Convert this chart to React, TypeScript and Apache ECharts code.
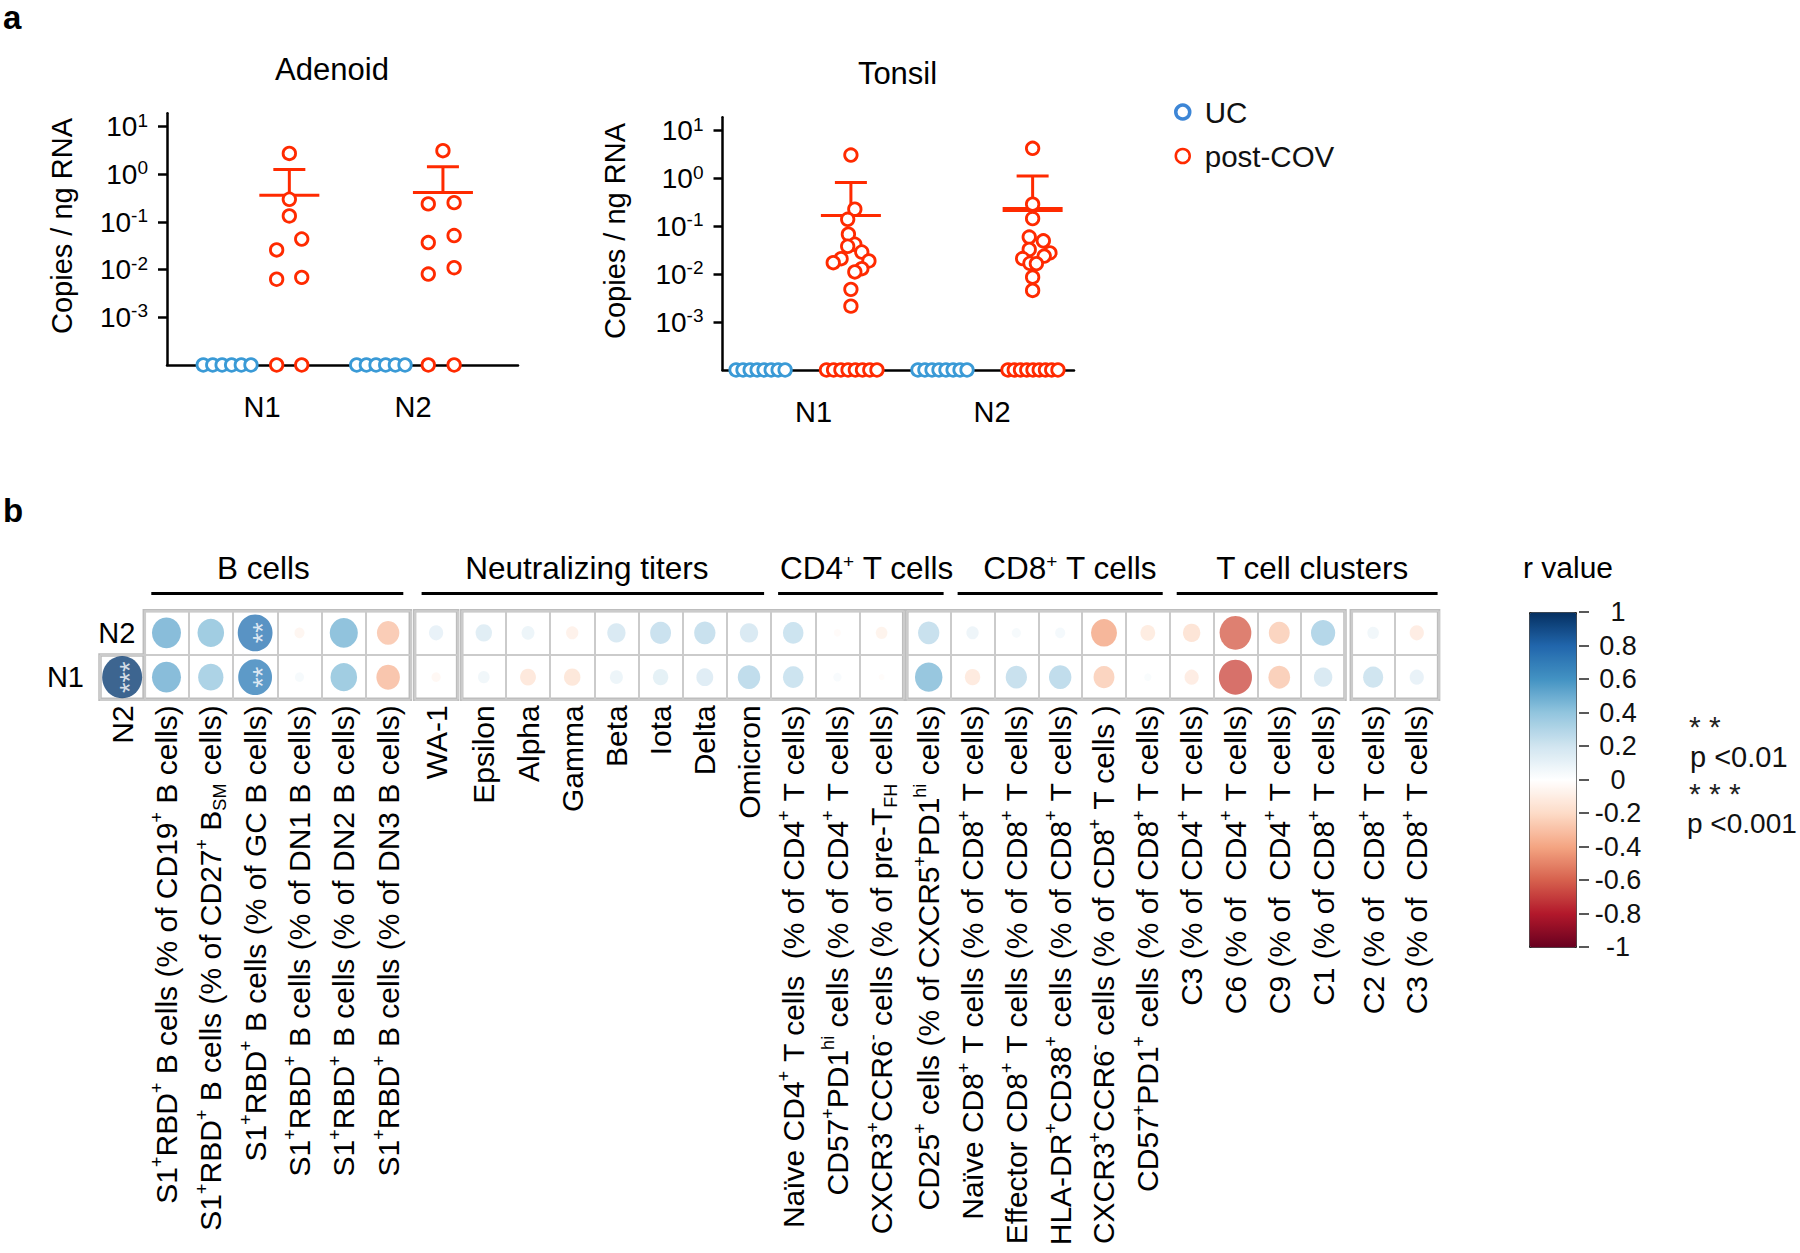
import React, { useEffect, useRef } from 'react';
import * as echarts from 'echarts';

const FONT = '"Liberation Sans", Arial, Helvetica, sans-serif';
const RED = '#ff2a00';
const BLUE = '#3a9ad6';
const LEGEND_BLUE = '#3d86d6';

// ---------------- Panel a data: copies / ng RNA (0 = not detected) ----------------
const groupsA = ['N1', 'N2'];
const yTickExponents = [-3, -2, -1, 0, 1];

const adenoidUcN1 = [0, 0, 0, 0, 0, 0];
const adenoidUcN2 = [0, 0, 0, 0, 0, 0];
const adenoidPostN1 = [2.75, 0.3, 0.134, 0.044, 0.026, 0.0063, 0.0069, 0, 0];
const adenoidPostN2 = [3.14, 0.24, 0.255, 0.052, 0.037, 0.011, 0.0081, 0, 0];

const tonsilUcN1 = [0, 0, 0, 0, 0, 0, 0, 0];
const tonsilUcN2 = [0, 0, 0, 0, 0, 0, 0, 0];
const tonsilPostN1 = [3.1, 0.229, 0.141, 0.0687, 0.0424, 0.0385, 0.0292, 0.0212, 0.0175, 0.019, 0.0131, 0.0112, 0.00484, 0.00216, 0, 0, 0, 0, 0, 0, 0, 0];
const tonsilPostN2 = [4.28, 0.292, 0.146, 0.06, 0.05, 0.033, 0.028, 0.0213, 0.017, 0.024, 0.0167, 0.0087, 0.0046, 0, 0, 0, 0, 0, 0, 0, 0, 0];

// horizontal jitter (fraction of the N1-N2 spacing) for each point above
const adenoidUcJitterN1 = [-0.389, -0.326, -0.264, -0.201, -0.137, -0.073];
const adenoidUcJitterN2 = [-0.373, -0.309, -0.245, -0.181, -0.117, -0.053];
const adenoidPostJitterN1 = [0.181, 0.181, 0.181, 0.263, 0.097, 0.097, 0.263, 0.097, 0.263];
const adenoidPostJitterN2 = [0.198, 0.101, 0.272, 0.272, 0.101, 0.272, 0.101, 0.101, 0.272];
const adenoidMeanJitter = [0.181, 0.198];

const tonsilUcJitterN1 = [-0.435, -0.396, -0.356, -0.317, -0.278, -0.238, -0.199, -0.16];
const tonsilUcJitterN2 = [-0.415, -0.376, -0.336, -0.297, -0.258, -0.218, -0.179, -0.14];
const tonsilPostJitterN1 = [0.209, 0.231, 0.191, 0.195, 0.231, 0.191, 0.27, 0.154, 0.11, 0.31, 0.27, 0.231, 0.209, 0.209, 0.072, 0.112, 0.153, 0.193, 0.234, 0.274, 0.315, 0.355];
const tonsilPostJitterN2 = [0.228, 0.228, 0.228, 0.209, 0.288, 0.209, 0.325, 0.172, 0.213, 0.293, 0.249, 0.228, 0.228, 0.09, 0.125, 0.16, 0.195, 0.23, 0.265, 0.3, 0.335, 0.37];
const tonsilMeanJitter = [0.209, 0.228];

// ---------------- Panel b data: correlation r values ----------------
const matrixColumns = [
  'N2',
  'S1{s|+}RBD{s|+} B cells (% of CD19{s|+} B cells)',
  'S1{s|+}RBD{s|+} B cells (% of CD27{s|+} B{b|SM} cells)',
  'S1{s|+}RBD{s|+} B cells (% of GC B cells)',
  'S1{s|+}RBD{s|+} B cells (% of DN1 B cells)',
  'S1{s|+}RBD{s|+} B cells (% of DN2 B cells)',
  'S1{s|+}RBD{s|+} B cells (% of DN3 B cells)',
  'WA-1',
  'Epsilon',
  'Alpha',
  'Gamma',
  'Beta',
  'Iota',
  'Delta',
  'Omicron',
  'Naïve CD4{s|+} T cells  (% of CD4{s|+} T cells)',
  'CD57{s|+}PD1{s|hi} cells (% of CD4{s|+} T cells)',
  'CXCR3{s|+}CCR6{s|-} cells (% of pre-T{b|FH} cells)',
  'CD25{s|+} cells (% of CXCR5{s|+}PD1{s|hi} cells)',
  'Naïve CD8{s|+} T cells (% of CD8{s|+} T cells)',
  'Effector CD8{s|+} T cells (% of CD8{s|+} T cells)',
  'HLA-DR{s|+}CD38{s|+} cells (% of CD8{s|+} T cells)',
  'CXCR3{s|+}CCR6{s|-} cells (% of CD8{s|+} T cells )',
  'CD57{s|+}PD1{s|+} cells (% of CD8{s|+} T cells)',
  'C3 (% of CD4{s|+} T cells)',
  'C6 (% of  CD4{s|+} T cells)',
  'C9 (% of  CD4{s|+} T cells)',
  'C1 (% of CD8{s|+} T cells)',
  'C2 (% of  CD8{s|+} T cells)',
  'C3 (% of  CD8{s|+} T cells)',
];
const rN2: (number | null)[] = [null, 0.5, 0.42, 0.72, -0.06, 0.47, -0.3, 0.12, 0.16, 0.1, -0.09, 0.2, 0.26, 0.27, 0.2,
  0.25, -0.03, -0.08, 0.27, 0.09, 0.05, 0.06, -0.4, -0.13, -0.18, -0.6, -0.26, 0.35, 0.08, -0.12];
const rN1: (number | null)[] = [0.95, 0.5, 0.38, 0.68, 0.05, 0.42, -0.33, -0.05, 0.08, -0.15, -0.16, 0.1, 0.14, 0.17, 0.3,
  0.25, 0.04, -0.02, 0.45, -0.14, 0.27, 0.3, -0.26, 0.03, -0.12, -0.65, -0.28, 0.2, 0.24, 0.12];
const sigN2 = ['', '', '', '**', '', '', '', '', '', '', '', '', '', '', '', '', '', '', '', '', '', '', '', '', '', '', '', '', '', ''];
const sigN1 = ['***', '', '', '**', '', '', '', '', '', '', '', '', '', '', '', '', '', '', '', '', '', '', '', '', '', '', '', '', '', ''];

const headerNames = ['B cells', 'Neutralizing titers', 'CD4{s|+} T cells', 'CD8{s|+} T cells', 'T cell clusters'];
const headerFirstCol = [1, 7, 15, 19, 24];
const headerLastCol = [6, 14, 18, 23, 29];

const RDBU = ['#67001F', '#B2182B', '#D6604D', '#F4A582', '#FDDBC7', '#FFFFFF', '#D1E5F0', '#92C5DE', '#4393C3', '#2166AC', '#053061'];

// ---------------- layout ----------------
const CELL_TOP = 610.7;
const CELL_H = 44.3;
const BOXES = [
  { from: 0, to: 1, left: 100, width: 44.3, rows: ['N1'] },
  { from: 1, to: 7, left: 144.3, width: 266, rows: ['N1', 'N2'] },
  { from: 7, to: 8, left: 414.6, width: 43, rows: ['N1', 'N2'] },
  { from: 8, to: 18, left: 461.7, width: 442, rows: ['N1', 'N2'] },
  { from: 18, to: 28, left: 906.8, width: 438.2, rows: ['N1', 'N2'] },
  { from: 28, to: 30, left: 1351.3, width: 87.3, rows: ['N1', 'N2'] },
];
const HEADER_TEXT_DX = [-14, -6, 6, 10, 5];

const RICH_SMALL = {
  s: { fontSize: 18, lineHeight: 18, verticalAlign: 'top' },
  b: { fontSize: 18, lineHeight: 18, verticalAlign: 'bottom' },
};

const toLog = (v: number) => (v > 0 ? Math.log10(v) : -4);
const meanSd = (vals: number[]) => {
  const n = vals.length;
  const m = vals.reduce((a, b) => a + b, 0) / n;
  const sd = Math.sqrt(vals.reduce((a, b) => a + (b - m) * (b - m), 0) / (n - 1));
  return [m, sd];
};

function colLeft(i: number) {
  const b = BOXES.find((bx) => i >= bx.from && i < bx.to)!;
  return b.left + ((i - b.from) * b.width) / (b.to - b.from);
}
function colRight(i: number) {
  const b = BOXES.find((bx) => i >= bx.from && i < bx.to)!;
  return b.left + ((i + 1 - b.from) * b.width) / (b.to - b.from);
}

function renderErr(params: any, api: any) {
  const c = api.coord([api.value(0), api.value(1)]);
  const u = api.coord([api.value(0), api.value(2)]);
  const w = api.value(3);
  const st = { stroke: RED, lineWidth: 3 };
  return {
    type: 'group',
    children: [
      { type: 'line', shape: { x1: c[0] - 30, y1: c[1], x2: c[0] + 30, y2: c[1] }, style: { stroke: RED, lineWidth: w } },
      { type: 'line', shape: { x1: c[0], y1: c[1], x2: u[0], y2: u[1] }, style: st },
      { type: 'line', shape: { x1: u[0] - 16, y1: u[1], x2: u[0] + 16, y2: u[1] }, style: st },
    ],
  };
}

function buildOption() {
  const panels = [
    {
      grid: { left: 167, top: 113.3, width: 351, height: 251.7 },
      xMin: 0.371, xMax: 2.695, yMax: 1.281,
      uc: [adenoidUcN1, adenoidUcN2], ucJ: [adenoidUcJitterN1, adenoidUcJitterN2],
      post: [adenoidPostN1, adenoidPostN2], postJ: [adenoidPostJitterN1, adenoidPostJitterN2],
      meanJ: adenoidMeanJitter, meanW: [3, 3],
    },
    {
      grid: { left: 722.5, top: 117.3, width: 351.5, height: 252.7 },
      xMin: 0.489, xMax: 2.46, yMax: 1.28,
      uc: [tonsilUcN1, tonsilUcN2], ucJ: [tonsilUcJitterN1, tonsilUcJitterN2],
      post: [tonsilPostN1, tonsilPostN2], postJ: [tonsilPostJitterN1, tonsilPostJitterN2],
      meanJ: tonsilMeanJitter, meanW: [3, 5],
    },
  ];

  const grid: any[] = [];
  const xAxis: any[] = [];
  const yAxis: any[] = [];
  const series: any[] = [];

  panels.forEach((p, pi) => {
    grid.push({ ...p.grid, show: false });
    xAxis.push({
      type: 'value', gridIndex: pi, min: p.xMin, max: p.xMax,
      axisLine: { show: true, onZero: false, lineStyle: { color: '#000', width: 2.5 } },
      axisTick: { show: false }, splitLine: { show: false },
      axisLabel: {
        customValues: [1, 2],
        formatter: (v: number) => (Number.isInteger(v) && groupsA[v - 1] ? groupsA[v - 1] : ''),
        fontSize: 29, color: '#000', margin: 27, fontFamily: FONT,
      },
    });
    yAxis.push({
      type: 'value', gridIndex: pi, min: -4, max: p.yMax, interval: 1,
      axisLine: { show: true, lineStyle: { color: '#000', width: 2.5 } },
      axisTick: { show: true, length: 9, customValues: yTickExponents, lineStyle: { color: '#000', width: 2.5 } },
      splitLine: { show: false },
      axisLabel: {
        customValues: yTickExponents,
        formatter: (v: number) => (v <= -4 ? '' : `{b|10}{s|${v}}`),
        margin: 19, color: '#000', fontFamily: FONT,
        rich: {
          b: { fontSize: 28, lineHeight: 32, fontFamily: FONT, color: '#000' },
          s: { fontSize: 19, lineHeight: 19, verticalAlign: 'top', fontFamily: FONT, color: '#000' },
        },
      },
    });
    const ucData: number[][] = [];
    p.uc.forEach((arr, g) => arr.forEach((v, i) => ucData.push([g + 1 + p.ucJ[g][i], toLog(v)])));
    const postData: number[][] = [];
    p.post.forEach((arr, g) => arr.forEach((v, i) => postData.push([g + 1 + p.postJ[g][i], toLog(v)])));
    const errData = p.post.map((arr, g) => {
      const [m, sd] = meanSd(arr);
      return [g + 1 + p.meanJ[g], Math.log10(m), Math.log10(m + sd), p.meanW[g]];
    });
    series.push({
      type: 'custom', name: 'mean', xAxisIndex: pi, yAxisIndex: pi, data: errData,
      renderItem: renderErr, encode: { x: 0, y: [1, 2] }, z: 2, silent: true,
    });
    series.push({
      type: 'scatter', name: 'UC', xAxisIndex: pi, yAxisIndex: pi, data: ucData, symbol: 'circle', symbolSize: 12.5,
      itemStyle: { color: '#fff', borderColor: BLUE, borderWidth: 2.8, opacity: 1 }, z: 3, silent: true,
    });
    series.push({
      type: 'scatter', name: 'post-COV', xAxisIndex: pi, yAxisIndex: pi, data: postData, symbol: 'circle', symbolSize: 12.5,
      itemStyle: { color: '#fff', borderColor: RED, borderWidth: 2.8, opacity: 1 }, z: 4, silent: true,
    });
  });

  // ---------- panel b matrix ----------
  const matrixSeries: number[] = [];
  BOXES.forEach((b, bi) => {
    const gi = 2 + bi;
    const rows = b.rows;
    const top = rows.length === 1 ? CELL_TOP + CELL_H : CELL_TOP;
    grid.push({
      left: b.left, top, width: b.width, height: CELL_H * rows.length,
      show: true, borderColor: '#bdbdbd', borderWidth: 3.5, backgroundColor: 'transparent',
    });
    const cols = matrixColumns.slice(b.from, b.to);
    xAxis.push({
      type: 'category', gridIndex: gi, data: cols, boundaryGap: true, position: 'bottom',
      axisLine: { show: false }, axisTick: { show: false },
      splitLine: { show: true, interval: 0, lineStyle: { color: '#cbcbcb', width: 2 } },
      axisLabel: {
        interval: 0, rotate: 90, margin: 6, fontSize: 30, lineHeight: 36, color: '#000', fontFamily: FONT,
        rich: RICH_SMALL,
      },
    });
    yAxis.push({
      type: 'category', gridIndex: gi, data: rows,
      axisLine: { show: false }, axisTick: { show: false },
      splitLine: { show: true, interval: 0, lineStyle: { color: '#cbcbcb', width: 2 } },
      axisLabel: {
        show: bi < 2, interval: 0, fontSize: 29, color: '#000', fontFamily: FONT,
        margin: bi === 0 ? 16 : 9,
        formatter: (v: string) => (bi === 0 ? v : v === 'N2' ? v : ''),
      },
    });
    const data: any[] = [];
    cols.forEach((_, ci) => {
      const c = b.from + ci;
      rows.forEach((row, ri) => {
        const r = row === 'N1' ? rN1[c] : rN2[c];
        if (r == null) return;
        const sig = row === 'N1' ? sigN1[c] : sigN2[c];
        const item: any = { value: [ci, ri, r] };
        if (sig) {
          item.label = {
            show: true, position: 'inside', formatter: sig, rotate: 90, offset: [0, 8],
            color: '#fff', fontSize: 27, fontFamily: FONT,
          };
        }
        data.push(item);
      });
    });
    matrixSeries.push(series.length);
    series.push({
      type: 'scatter', name: 'r' + bi, xAxisIndex: gi, yAxisIndex: gi, data, symbol: 'circle',
      symbolSize: (val: number[]) => {
        const d = 41 * Math.sqrt(Math.abs(val[2]));
        return [d, d * 1.06];
      },
      z: 5, silent: true,
    });
  });

  // ---------- colorbar axis ----------
  const cbIndex = 2 + BOXES.length;
  grid.push({ left: 1579, top: 612, width: 1, height: 335, show: false });
  xAxis.push({ type: 'value', gridIndex: cbIndex, show: false });
  yAxis.push({
    type: 'value', gridIndex: cbIndex, min: -1, max: 1, interval: 0.2, position: 'right',
    axisLine: { show: false },
    axisTick: { show: true, length: 10, lineStyle: { color: '#222', width: 1.5 } },
    splitLine: { show: false },
    axisLabel: {
      formatter: (v: number) => String(Math.round(v * 10) / 10),
      align: 'center', margin: 38, fontSize: 27, color: '#111', fontFamily: FONT,
    },
  });

  // ---------- graphic annotations ----------
  const graphic: any[] = [
    { type: 'text', x: 3, y: 17, style: { text: 'a', font: `bold 33px ${FONT}`, fill: '#000', align: 'left', verticalAlign: 'middle' } },
    { type: 'text', x: 3, y: 510, style: { text: 'b', font: `bold 33px ${FONT}`, fill: '#000', align: 'left', verticalAlign: 'middle' } },
    { type: 'text', x: 332, y: 69, style: { text: 'Adenoid', font: `31px ${FONT}`, fill: '#000', align: 'center', verticalAlign: 'middle' } },
    { type: 'text', x: 897.5, y: 73, style: { text: 'Tonsil', font: `31px ${FONT}`, fill: '#000', align: 'center', verticalAlign: 'middle' } },
    { type: 'text', x: 62, y: 226, rotation: Math.PI / 2, style: { text: 'Copies / ng RNA', font: `29px ${FONT}`, fill: '#000', align: 'center', verticalAlign: 'middle' } },
    { type: 'text', x: 614.5, y: 231, rotation: Math.PI / 2, style: { text: 'Copies / ng RNA', font: `29px ${FONT}`, fill: '#000', align: 'center', verticalAlign: 'middle' } },
    { type: 'text', x: 1568, y: 567, style: { text: 'r value', font: `30px ${FONT}`, fill: '#000', align: 'center', verticalAlign: 'middle' } },
    { type: 'text', x: 1689, y: 726, style: { text: '* *', font: `30px ${FONT}`, fill: '#222', align: 'left', verticalAlign: 'middle' } },
    { type: 'text', x: 1690, y: 757, style: { text: 'p <0.01', font: `29px ${FONT}`, fill: '#111', align: 'left', verticalAlign: 'middle' } },
    { type: 'text', x: 1689, y: 793, style: { text: '* * *', font: `30px ${FONT}`, fill: '#222', align: 'left', verticalAlign: 'middle' } },
    { type: 'text', x: 1687, y: 823, style: { text: 'p <0.001', font: `28px ${FONT}`, fill: '#111', align: 'left', verticalAlign: 'middle' } },
  ];
  headerNames.forEach((name, hi) => {
    const x1 = colLeft(headerFirstCol[hi]) + 7;
    const x2 = colRight(headerLastCol[hi]) - (hi === headerNames.length - 1 ? 1 : 7);
    graphic.push({
      type: 'line', shape: { x1, y1: 593.5, x2, y2: 593.5 }, style: { stroke: '#000', lineWidth: 2.8 },
    });
    graphic.push({
      type: 'text', x: (x1 + x2) / 2 + HEADER_TEXT_DX[hi], y: 568,
      style: {
        text: name, font: `31.5px ${FONT}`, fill: '#000', align: 'center', verticalAlign: 'middle',
        rich: { s: { fontSize: 19, lineHeight: 19, verticalAlign: 'top', fontFamily: FONT, fill: '#000' } },
      },
    });
  });

  return {
    animation: false,
    backgroundColor: '#fff',
    textStyle: { fontFamily: FONT },
    grid, xAxis, yAxis, series, graphic,
    legend: {
      orient: 'vertical', left: 1169, top: 92, itemWidth: 14, itemHeight: 14, itemGap: 14,
      textStyle: { fontSize: 29.5, color: '#111', fontFamily: FONT, padding: [0, 0, 0, 10] },
      selectedMode: false,
      data: [
        { name: 'UC', icon: 'circle', itemStyle: { color: '#fff', borderColor: LEGEND_BLUE, borderWidth: 3.5 } },
        { name: 'post-COV', icon: 'circle', itemStyle: { color: '#fff', borderColor: RED, borderWidth: 2.5 } },
      ],
    },
    visualMap: {
      type: 'continuous', min: -1, max: 1, dimension: 2, seriesIndex: matrixSeries,
      inRange: { color: RDBU }, orient: 'vertical', left: 1529, top: 612,
      itemWidth: 47, itemHeight: 335, calculable: false, padding: 0,
      borderColor: '#222', borderWidth: 1, hoverLink: false, text: null, showLabel: false,
    },
  };
}

export default function App() {
  const ref = useRef<HTMLDivElement>(null);
  useEffect(() => {
    document.body.style.margin = '0';
    const chart = echarts.init(ref.current!, null, { renderer: 'svg' });
    chart.setOption(buildOption() as any);
    return () => chart.dispose();
  }, []);
  return <div ref={ref} style={{ width: 1800, height: 1253 }} />;
}
